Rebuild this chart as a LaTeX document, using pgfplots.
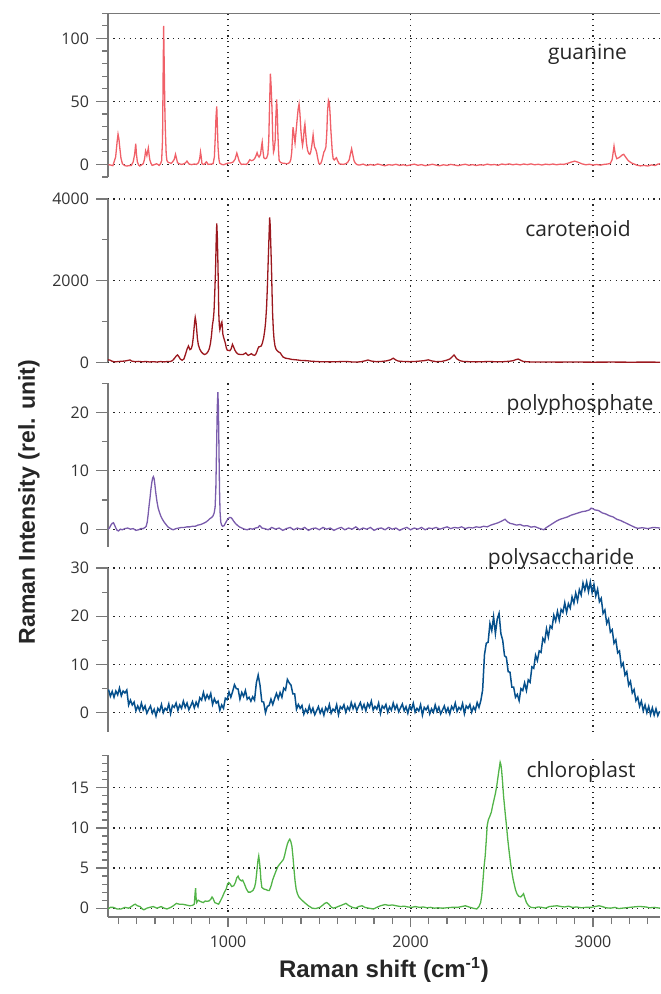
\documentclass[border=0pt]{standalone}
\usepackage{pgfplots}
\pgfplotsset{compat=1.18}
\usepackage{fontspec}
\setmainfont{Open Sans}
\newfontfamily\titlefont{Liberation Sans}
\definecolor{axgray}{RGB}{120,120,120}
\definecolor{cgua}{RGB}{240,96,104}
\definecolor{ccar}{RGB}{155,24,30}
\definecolor{cpol}{RGB}{122,92,172}
\definecolor{csac}{RGB}{6,80,140}
\definecolor{cchl}{RGB}{82,180,72}
\pgfplotsset{
  panel/.style={
    scale only axis, width=276pt,
    xmin=342, xmax=3367,
    axis x line*=bottom, axis y line*=left,
    x axis line style={draw=none},
    y axis line style={draw=axgray, line width=0.75pt},
    xtick={1000,2000,3000}, xticklabels={},
    x tick style={draw=none},
    tick align=outside,
    y tick style={draw=axgray, line width=0.6pt},
    major tick length=6pt, minor tick length=3pt,
    xmajorgrids, ymajorgrids,
    major grid style={black!85, line width=0.6pt, dash pattern=on 0.6pt off 2.1pt},
    tick label style={font=\fontsize{8}{9.5}\selectfont, text=black!80},
    /pgf/number format/assume math mode=true,
    /pgf/number format/set thousands separator={},
    every axis plot/.append style={line width=0.65pt, mark=none},
  }
}
\begin{document}
\begin{tikzpicture}
\useasboundingbox (0,0) rectangle (330pt,497pt);

% ---------- guanine ----------
\begin{axis}[panel, at={(54pt,408.5pt)}, anchor=south west, height=81.85pt,
  ymin=-10, ymax=120, ytick={0,50,100},
  minor ytick={-10,10,20,30,40,60,70,80,90,110,120}]
\addplot[cgua] coordinates {
(345,-0.5)(351,-0.3)(369,-1)(384,6)(392,18)(397,24)(402,20)(406,14)(413,5)(421,0.5)(432,-0.8)(443,-1.3)(458,-1)(470,-0.8)(480,2)(488,8)(494,16.4)(498,8)(503,2)(510,-0.5)(516,-1.3)(525,-0.5)(535,0.5)(542,4)(548,10.6)(555,7)(559,10)(563,13)(567,8)(571,3.7)(577,1)(584,-0.8)(596,-0.2)(608,0.5)(615,0)(622,-0.8)(630,0.5)(636,3)(641,20)(644,70)(647,110)(650,80)(654,40)(657,24)(661,8)(665,3)(672,1.5)(680,1.3)(688,0.8)(695,1.8)(705,4)(712,8)(717,5)(723,1.3)(733,0.5)(744,0)(755,0.3)(765,1)(775,2.6)(780,1.5)(786,0.3)(800,-0.2)(815,0.3)(827,0)(838,1.3)(845,5)(849,9.8)(853,6)(857,0.5)(865,0)(872,0.3)(877,1.5)(882,2)(886,1)(890,0)(905,0.2)(918,0.5)(925,6)(929,19)(934,38)(938,46)(941,32)(945,13.8)(950,4)(954,1)(965,0)(976,-0.3)(988,0.4)(1000,1)(1015,1.2)(1027,1.8)(1038,4)(1044,7)(1048,9)(1054,6)(1060,3)(1067,1)(1073,0)(1085,0.2)(1101,0)(1110,1.5)(1119,3.7)(1128,3)(1137,3.4)(1145,4.5)(1152,6.5)(1159,9.3)(1164,7)(1170,5.8)(1178,8)(1183,14)(1187,17.7)(1191,11)(1196,5.3)(1203,4.5)(1211,5)(1218,8)(1223,19)(1227,45)(1232,72)(1236,62)(1241,43)(1245,20)(1249,9.8)(1253,12)(1258,19)(1262,38)(1266,51.6)(1270,40)(1273,24)(1277,10)(1280,3)(1288,1.5)(1298,1)(1310,0.8)(1320,0.5)(1330,0.8)(1338,1.6)(1344,4)(1349,9.8)(1353,22)(1356,29.6)(1361,24)(1367,17)(1372,25)(1378,35)(1384,44)(1389,48)(1394,40)(1399,27)(1404,19)(1408,15)(1413,20)(1417,28)(1421,32)(1425,25)(1430,16.4)(1436,11)(1443,8.5)(1448,8)(1453,9.8)(1459,15)(1466,23.5)(1470,18)(1474,13.8)(1480,12)(1485,9.8)(1491,5)(1497,1)(1502,0.3)(1507,0.5)(1513,2.5)(1519,6)(1525,9.8)(1530,11)(1536,13.8)(1541,25)(1545,42)(1550,51)(1555,49)(1559,40)(1563,28)(1567,19)(1571,10)(1576,4.5)(1582,3.5)(1588,4.5)(1594,5.3)(1600,3)(1609,0.5)(1620,0.2)(1631,0)(1645,0.5)(1655,1.5)(1664,3.7)(1670,8)(1677,12.4)(1683,8)(1690,3)(1698,0.8)(1708,-0.3)
(1720,-0.5)(1740,0.2)(1760,-0.9)(1780,-0.1)(1800,-0.7)(1820,0.3)(1840,-0.4)(1860,-1.1)(1880,-0.2)(1900,-0.6)(1920,0.1)(1940,-0.8)(1960,-0.3)(1980,-1.0)(2000,-0.4)(2020,0.2)(2040,-0.7)(2060,-0.2)(2080,-1.0)(2100,-0.5)(2120,0.1)(2140,-0.6)(2160,-1.1)(2180,-0.3)(2200,-0.8)(2220,0.0)(2240,-0.5)(2260,-1.0)(2280,-0.4)(2300,0.1)(2320,-0.7)(2340,-0.2)(2360,-0.9)(2380,-0.3)(2400,-0.6)(2420,0.2)(2440,-0.4)(2460,-0.1)(2480,-0.7)(2500,0.3)(2520,-0.2)(2540,0.4)(2560,-0.3)(2580,0.2)(2600,-0.4)(2620,0.3)(2640,-0.2)(2660,0.4)(2680,-0.3)(2700,0.1)(2720,-0.5)(2740,0.2)(2760,-0.2)(2780,0.3)(2800,-0.3)(2820,0.2)(2840,0.0)(2860,0.8)(2880,1.8)(2900,2.6)(2920,1.6)(2940,0.4)(2960,-0.3)(2980,0.1)(3000,-0.5)(3020,-0.1)(3040,-0.6)(3060,0.0)(3080,0.3)(3095,0.8)(3105,4.0)(3115,14.5)(3122,8)(3130,4.5)(3140,5.2)(3150,6.2)(3160,7.5)(3168,8.0)(3180,5.5)(3193,3.0)(3210,1.2)(3225,0.3)(3240,-0.6)(3260,-1.2)(3280,-0.8)(3300,-1.3)(3320,-0.4)(3340,-0.9)(3355,0.2)(3367,0.5)
};
\draw[axgray, line width=0.75pt] (rel axis cs:0,1) -- (rel axis cs:1,1);
\end{axis}

% ---------- carotenoid ----------
\begin{axis}[panel, at={(54pt,315.85pt)}, anchor=south west, height=81.65pt,
  ymin=0, ymax=4000, ytick={0,2000,4000}, minor ytick={1000,3000}]
\addplot[ccar] coordinates {
(342,60)(352,55)(365,25)(380,10)(400,20)(420,25)(440,35)(455,50)(463,57)(472,30)(490,15)(510,22)(530,12)(550,20)(570,8)(590,15)(610,6)(630,18)(650,10)(670,20)(683,18)(695,40)(705,90)(715,150)(723,180)(730,140)(738,80)(748,50)(758,80)(767,200)(775,320)(783,400)(791,310)(798,330)(804,420)(809,600)(813,800)(817,1000)(820,1100)(824,1000)(828,800)(832,580)(837,430)(845,320)(854,250)(863,210)(872,190)(881,210)(890,260)(897,330)(903,450)(909,650)(914,900)(919,1050)(923,1250)(927,1700)(931,2200)(935,3000)(938,3400)(941,3100)(944,2500)(947,1800)(949,1200)(952,900)(955,800)(959,880)(962,950)(966,990)(969,850)(971,700)(975,620)(979,560)(983,500)(986,450)(990,360)(995,300)(1002,290)(1010,285)(1017,330)(1024,440)(1030,380)(1037,300)(1045,240)(1055,200)(1068,190)(1082,190)(1090,210)(1097,230)(1103,200)(1110,170)(1120,190)(1128,210)(1137,180)(1146,170)(1152,200)(1158,260)(1164,340)(1169,380)(1175,385)(1182,400)(1188,470)(1195,600)(1201,780)(1206,1000)(1211,1350)(1215,1800)(1219,2350)(1223,2900)(1226,3300)(1228,3550)(1231,3350)(1234,2900)(1238,2300)(1241,1700)(1244,1200)(1248,800)(1252,560)(1257,400)(1263,320)(1270,280)(1278,250)(1286,230)(1293,180)(1301,130)(1315,100)(1329,90)(1350,70)(1374,60)(1400,45)(1429,40)(1460,25)(1502,15)(1530,12)(1558,10)(1600,15)(1649,20)(1680,8)(1704,5)(1730,15)(1750,35)(1767,57)(1785,30)(1813,15)(1840,20)(1868,35)(1890,60)(1905,100)(1918,60)(1932,30)(1960,20)(1996,15)(2025,20)(2051,30)(2075,40)(2097,60)(2115,35)(2142,15)(2170,20)(2197,50)(2215,80)(2225,120)(2238,180)(2245,140)(2252,90)(2270,40)(2289,20)(2320,15)(2362,10)(2400,15)(2435,20)(2470,12)(2508,15)(2540,25)(2563,40)(2577,65)(2590,80)(2603,50)(2618,20)(2650,10)(2691,5)(2750,8)(2800,4)(2900,6)(3000,3)(3100,5)(3200,3)(3300,4)(3367,3)
};
\end{axis}

% ---------- polyphosphate ----------
\begin{axis}[panel, at={(54pt,223.65pt)}, anchor=south west, height=81.7pt,
  ymin=-3, ymax=25, ytick={0,10,20}, minor ytick={5,15,25}]
\addplot[cpol] coordinates {
(342,0.0)(350,0.2)(358,0.7)(365,1.0)(372,1.1)(378,0.7)(385,0.2)(392,-0.2)(400,-0.3)(410,0.0)(420,-0.1)(435,0.1)(450,0.2)(465,0.0)(480,0.1)(495,-0.2)(510,-0.1)(522,0.1)(535,0.1)(545,0.3)(551,0.5)(557,1.2)(562,2.5)(567,4.0)(572,5.3)(577,6.8)(582,8.0)(587,8.8)(591,9.0)(595,8.6)(599,7.6)(604,6.2)(610,4.8)(617,3.6)(625,2.8)(632,2.2)(640,1.7)(650,1.2)(660,0.8)(670,0.4)(680,0.2)(690,0.0)(700,-0.1)(715,0.1)(730,0.2)(745,0.3)(760,0.3)(775,0.4)(790,0.4)(805,0.5)(820,0.5)(835,0.7)(850,0.8)(865,1.0)(878,1.2)(890,1.5)(900,1.8)(910,2.0)(918,2.3)(924,2.8)(929,3.8)(933,7.0)(937,14)(941,21)(944,23.5)(947,21)(950,14)(953,7)(956,3)(960,1.2)(965,0.7)(970,0.5)(978,0.6)(985,1.0)(992,1.4)(1000,1.8)(1008,2.0)(1015,2.0)(1022,1.8)(1030,1.4)(1040,1.0)(1050,0.7)(1062,0.4)(1075,0.2)(1090,0.0)(1105,-0.1)(1120,0.1)(1135,0.0)(1150,0.2)(1165,0.3)(1172,0.6)(1178,0.5)(1185,0.2)
(1200,0.1)(1220,-0.1)(1240,0.3)(1260,0.0)(1280,0.2)(1300,-0.2)(1320,0.1)(1340,0.3)(1360,-0.1)(1380,0.2)(1400,0.0)(1420,0.3)(1440,-0.2)(1460,0.1)(1480,0.2)(1500,-0.1)(1520,0.3)(1540,0.0)(1560,0.2)(1580,-0.2)(1600,0.1)(1620,0.3)(1640,-0.1)(1660,0.2)(1680,0.0)(1700,0.4)(1720,-0.1)(1740,0.2)(1760,0.0)(1780,0.3)(1800,-0.2)(1820,0.1)(1840,0.2)(1860,-0.1)(1880,0.3)(1900,0.0)(1920,0.2)(1940,-0.2)(1960,0.1)(1980,0.3)(2000,-0.1)(2020,0.2)(2040,0.0)(2060,0.3)(2080,-0.1)(2100,0.2)(2120,0.1)(2140,0.3)(2160,0.0)(2180,0.2)(2200,0.4)(2220,0.1)(2240,0.3)(2260,0.2)(2280,0.4)(2300,0.1)(2320,0.3)(2340,0.2)(2360,0.4)
(2380,0.3)(2400,0.5)(2420,0.4)(2440,0.7)(2460,0.9)(2480,1.1)(2500,1.4)(2518,1.7)(2530,1.3)(2545,1.0)(2560,0.9)(2580,0.7)(2600,0.8)(2620,0.55)(2640,0.6)(2660,0.35)(2680,0.45)(2700,0.2)(2720,0.0)(2730,-0.1)(2745,0.3)(2760,0.6)(2780,1.0)(2800,1.4)(2820,1.7)(2840,1.9)(2860,2.1)(2880,2.4)(2900,2.6)(2920,2.8)(2940,3.0)(2960,3.1)(2980,3.3)(2990,3.6)(3000,3.5)(3010,3.3)(3030,3.2)(3050,2.8)(3070,2.6)(3090,2.3)(3110,2.1)(3130,1.7)(3150,1.5)(3170,1.2)(3190,0.9)(3210,0.6)(3230,0.3)(3245,0.15)(3270,0.25)(3300,0.1)(3330,0.3)(3367,0.2)
};
\end{axis}

% ---------- polysaccharide ----------
\begin{axis}[panel, at={(54pt,131pt)}, anchor=south west, height=82pt,
  ymin=-4, ymax=30, ytick={0,10,20,30}, minor ytick={5,15,25}]
\addplot[csac, line width=0.75pt] coordinates {
(345,4.8)(355,3.4)(365,4.4)(375,3.2)(385,4.5)(395,3.7)(405,5.1)(415,3.5)(425,4.5)(435,4.1)(445,4.7)(455,1.6)(465,2.6)(475,1.6)(485,2.2)(495,0.4)(505,1.4)(515,0.5)(525,2.0)(535,0.6)(545,1.4)(555,-0.1)(565,0.7)(575,1.4)(585,-0.1)(595,0.7)(605,-0.7)(615,0.9)(625,0.3)(635,1.7)(645,0.0)(655,0.9)(665,0.5)(675,1.8)(685,-0.2)(695,1.5)(705,1.1)(715,2.0)(725,0.5)(735,1.6)(745,0.9)(755,2.4)(765,1.1)(775,2.0)(785,0.6)(795,1.4)(805,2.3)(815,1.0)(825,2.2)(835,1.3)(845,3.1)(855,2.6)(865,4.2)(875,2.7)(885,3.7)(895,2.9)(905,4.0)(915,1.7)(925,2.9)(935,2.0)(945,2.4)(955,0.5)(965,1.6)(975,0.9)(985,3.0)(995,2.7)(1005,4.3)(1015,3.2)(1025,4.4)(1035,5.8)(1045,5.0)(1055,4.9)(1065,2.8)(1075,4.2)(1085,3.4)(1095,4.6)(1105,2.8)(1115,3.2)(1125,2.4)(1135,3.3)(1145,2.6)(1155,6.2)(1165,7.8)(1175,5.7)(1185,2.3)(1195,2.2)(1205,0.0)(1215,1.3)(1225,1.5)(1235,2.8)(1245,1.7)(1255,2.9)(1265,4.0)(1275,2.9)(1285,4.2)(1295,3.2)(1305,5.1)(1315,4.7)(1325,6.9)(1335,6.2)(1345,5.7)(1355,3.9)(1365,3.9)(1375,0.7)(1385,1.7)(1395,0.9)(1405,1.5)(1415,-0.3)(1425,0.7)(1435,0.0)(1445,1.4)(1455,0.05)(1465,0.95)(1475,-0.4)(1485,0.4)(1495,1.25)(1505,-0.1)(1515,0.8)(1525,-0.5)(1535,1.05)(1545,0.35)(1555,1.7)(1565,-0.1)(1575,0.75)(1585,0.3)(1595,1.65)(1605,-0.4)(1615,1.25)(1625,0.8)(1635,1.65)(1645,0.1)(1655,1.2)(1665,0.55)(1675,2.1)(1685,0.85)(1695,1.8)(1705,0.45)(1715,1.3)(1725,2.1)(1735,0.75)(1745,1.7)(1755,0.4)(1765,1.9)(1775,1.15)(1785,2.4)(1795,0.55)(1805,1.3)(1815,0.75)(1825,2.0)(1835,-0.15)(1845,1.4)(1855,0.9)(1865,1.7)(1875,0.1)(1885,1.2)(1895,0.5)(1905,2.0)(1915,0.7)(1925,1.6)(1935,0.2)(1945,1.0)(1955,1.8)(1965,0.4)(1975,1.25)(1985,-0.1)(1995,1.4)(2005,0.65)(2015,1.95)(2025,0.1)(2035,0.9)(2045,0.35)(2055,1.65)(2065,-0.5)(2075,1.1)(2085,0.6)(2095,1.35)(2105,-0.25)(2115,0.8)(2125,0.1)(2135,1.6)(2145,0.25)(2155,1.15)(2165,-0.25)(2175,0.55)(2185,1.4)(2195,0.05)(2205,1.0)(2215,-0.25)(2225,1.3)(2235,0.65)(2245,2.0)(2255,0.25)(2265,1.1)(2275,0.6)(2285,1.9)(2295,-0.2)(2305,1.4)(2315,0.9)(2325,1.7)(2335,0.1)(2345,1.2)(2355,0.5)(2365,2.1)(2375,1.1)(2385,2.5)(2395,4.7)(2405,12.0)(2415,14.4)(2425,14.6)(2435,18.5)(2445,17.0)(2455,19.9)(2465,16.4)(2475,19.4)(2485,20.6)(2495,16.4)(2505,15.0)(2515,11.8)(2525,11.5)(2535,8.5)(2545,8.4)(2555,5.3)(2565,5.3)(2575,3.2)(2585,3.8)(2595,2.5)(2605,5.0)(2615,4.6)(2625,6.2)(2635,4.6)(2645,6.8)(2655,6.3)(2665,9.5)(2675,9.2)(2685,11.9)(2695,10.8)(2705,12.8)(2715,12.5)(2725,15.4)(2735,14.7)(2745,17.4)(2755,15.7)(2765,18.0)(2775,17.5)(2785,20.2)(2795,19.0)(2805,21.0)(2815,19.2)(2825,21.4)(2835,20.8)(2845,22.8)(2855,20.8)(2865,22.6)(2875,21.7)(2885,24.0)(2895,22.7)(2905,24.8)(2915,23.2)(2925,25.5)(2935,24.4)(2945,26.9)(2955,25.4)(2965,27.1)(2975,25.1)(2985,27.1)(2995,24.9)(3005,26.6)(3015,24.2)(3025,25.6)(3035,23.0)(3045,23.7)(3055,20.6)(3065,21.3)(3075,18.5)(3085,19.4)(3095,16.7)(3105,17.2)(3115,14.4)(3125,15.1)(3135,12.4)(3145,12.8)(3155,9.6)(3165,10.3)(3175,7.8)(3185,8.5)(3195,5.7)(3205,6.5)(3215,4.1)(3225,4.8)(3235,2.5)(3245,3.2)(3255,1.3)(3265,2.4)(3275,0.4)(3285,1.6)(3295,0.0)(3305,1.3)(3315,-0.4)(3325,1.0)(3335,-0.5)(3345,0.8)(3355,-0.6)(3365,0.3)
};
\end{axis}

% ---------- chloroplast ----------
\begin{axis}[panel, at={(54pt,38.5pt)}, anchor=south west, height=81pt,
  ymin=-1.1, ymax=19.1, ytick={0,5,10,15},
  minor ytick={1,2,3,4,6,7,8,9,11,12,13,14,16,17,18,19},
  x axis line style={draw=axgray, line width=0.75pt},
  xticklabels={1000,2000,3000},
  x tick style={draw=axgray, line width=0.6pt},
  minor xtick={400,500,...,3300},
  major x tick style={draw=axgray, line width=0.6pt, /pgfplots/major tick length=5pt},
  minor x tick style={draw=axgray, line width=0.6pt, /pgfplots/minor tick length=3.5pt}]
\addplot[cchl] coordinates {
(342,-0.1)(355,0.1)(371,0.1)(392,-0.1)(413,-0.1)(435,0.1)(455,0)(470,0.2)(482,0.4)(491,0.5)(503,0.3)(518,0.2)(530,-0.1)(539,-0.2)(555,0.0)(570,0.1)(590,0.2)(610,0.0)(633,0.2)(650,0.0)(665,-0.1)(686,0.1)(700,0.3)(717,0.6)(732,0.5)(748,0.5)(770,0.4)(790,0.3)(805,0.35)(815,0.5)(819,1.8)(822,2.5)(825,1.2)(828,0.7)(836,1.0)(843,0.9)(852,0.8)(864,0.7)(875,0.9)(885,0.85)(895,0.9)(905,1.1)(912,1.4)(918,1.2)(927,0.7)(937,0.6)(948,0.5)(958,0.9)(969,1.4)(980,2.0)(990,2.4)(997,3.0)(1004,3.2)(1012,3.0)(1020,2.7)(1031,2.8)(1040,3.2)(1048,3.8)(1055,4.0)(1062,3.6)(1068,3.5)(1073,3.4)(1080,3.5)(1090,3.0)(1100,2.4)(1111,2.0)(1122,2.0)(1136,2.2)(1145,2.6)(1151,3.2)(1155,4.0)(1159,4.9)(1164,6.0)(1168,6.5)(1172,5.8)(1176,4.9)(1180,3.5)(1185,2.6)(1195,2.4)(1210,2.3)(1218,2.2)(1226,2.2)(1236,2.8)(1244,3.5)(1252,4.0)(1262,4.6)(1273,5.2)(1283,5.5)(1294,5.8)(1304,6.1)(1310,6.6)(1318,7.4)(1325,8.0)(1332,8.4)(1338,8.6)(1344,8.3)(1350,7.7)(1356,6.3)(1361,4.9)(1367,3.4)(1373,2.4)(1380,1.8)(1388,1.4)(1400,1.1)(1419,0.7)(1440,0.3)(1461,0.0)(1480,-0.05)(1503,0.1)(1520,0.4)(1530,0.6)(1541,0.7)(1552,0.5)(1565,0.15)(1577,0.0)(1592,0.1)(1608,0.25)(1625,0.4)(1646,0.6)(1660,0.35)(1681,0.1)(1700,0.0)(1715,0.2)(1734,0.3)(1750,0.1)(1770,0.0)(1797,-0.1)(1815,0.1)(1835,0.3)(1860,0.45)(1880,0.35)(1900,0.4)(1922,0.3)(1945,0.2)(1965,0.25)(1985,0.15)(2006,0.1)(2025,0.2)(2050,0.1)(2070,0.15)(2090,0.05)(2110,0.1)(2130,0.0)(2150,0.05)(2174,0.0)(2200,0.05)(2225,0.1)(2258,0.1)(2280,0.2)(2300,0.3)(2320,0.15)(2342,0.0)(2363,-0.1)(2375,0.2)(2384,0.7)(2390,1.6)(2396,3.2)(2402,5.0)(2409,6.5)(2415,8.5)(2420,10.3)(2426,11.0)(2435,11.5)(2443,12.0)(2450,12.8)(2457,13.5)(2465,14.3)(2472,15.2)(2477,16.0)(2482,16.8)(2487,17.6)(2491,18.2)(2495,17.9)(2499,17.2)(2505,15.5)(2510,13.9)(2518,12.0)(2526,10.2)(2533,8.5)(2541,6.9)(2548,5.6)(2556,4.4)(2562,3.6)(2568,3.0)(2575,2.3)(2583,1.8)(2592,1.5)(2604,1.4)(2612,1.6)(2619,1.8)(2626,1.3)(2635,0.7)(2647,0.3)(2660,0.1)(2680,0.05)(2700,0.15)(2719,0.1)(2740,0.0)(2760,0.2)(2780,0.25)(2803,0.3)(2825,0.2)(2845,0.15)(2865,0.25)(2887,0.1)(2910,0.15)(2935,0.05)(2960,0.1)(2991,0.1)(3010,0.2)(3033,0.3)(3050,0.2)(3070,0.05)(3096,0.0)(3120,0.1)(3140,-0.05)(3160,0.0)(3180,0.05)(3200,0.1)(3220,0.15)(3245,0.2)(3264,0.2)(3290,0.15)(3310,0.05)(3335,0.1)(3367,0.0)
};
\end{axis}

% ---------- panel names and axis titles ----------
\begin{scope}[every node/.style={font=\fontsize{10.5}{12}\selectfont, text=black!85, inner sep=0pt}]
\node[anchor=base] at (293.75pt,467pt) {guanine};
\node[anchor=base] at (289pt,378.65pt) {carotenoid};
\node[anchor=base] at (290pt,291.5pt) {polyphosphate};
\node[anchor=base] at (280.5pt,214.5pt) {polysaccharide};
\node[anchor=base] at (290.5pt,108pt) {chloroplast};
\end{scope}
\node[rotate=90, inner sep=0pt, text=black!85, font=\titlefont\bfseries\fontsize{11.5}{13}\selectfont] at (14.5pt,246pt) {Raman Intensity (rel. unit)};
\node[inner sep=0pt, text=black!85, font=\titlefont\bfseries\fontsize{12}{14}\selectfont] at (192pt,12pt) {Raman shift (cm\textsuperscript{-1})};
\end{tikzpicture}
\end{document}
